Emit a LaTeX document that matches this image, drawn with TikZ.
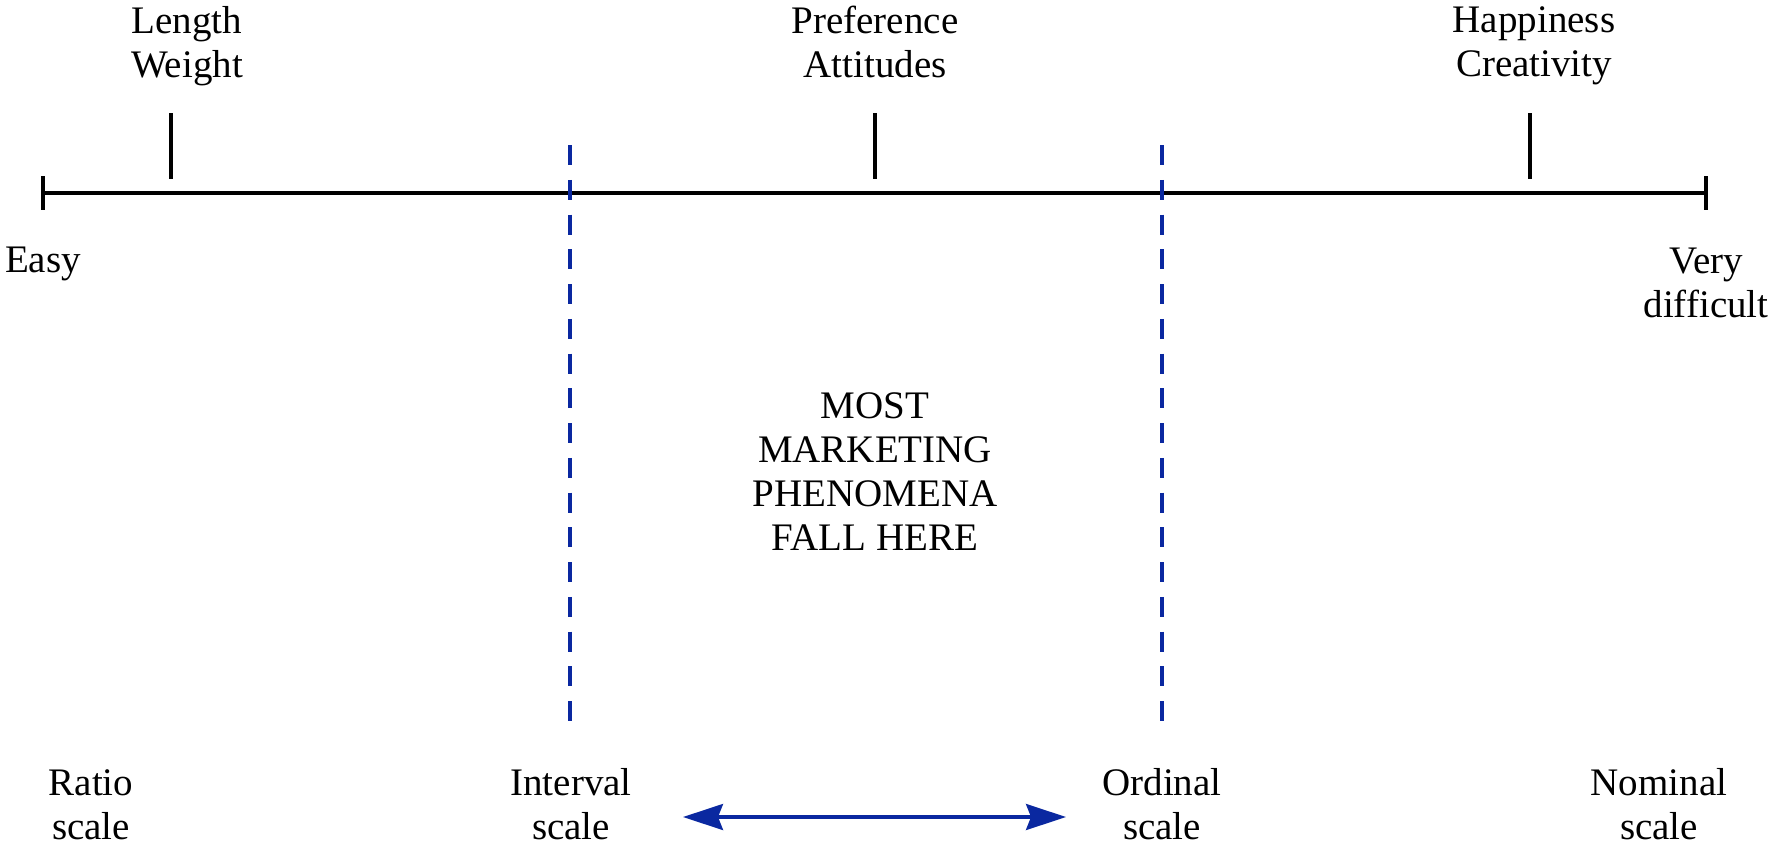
\documentclass[tikz,border=0pt]{standalone}
\usepackage{fontspec}
\setmainfont{Liberation Serif}
\usetikzlibrary{arrows.meta}
\definecolor{scaleblue}{RGB}{10,40,160}
\begin{document}
\begin{tikzpicture}[x=0.5pt,y=-0.5pt,
  lbl/.style={font=\fontsize{19.5}{22}\selectfont, align=center, inner sep=0pt, anchor=base},
  axis/.style={line width=1.6pt, black},
  divider/.style={scaleblue, line width=1.8pt, dash pattern=on 10pt off 7.375pt},
  span/.style={scaleblue, line width=1.6pt,
    {Stealth[length=20pt,width=13pt,inset=2.5pt]}-{Stealth[length=20pt,width=13pt,inset=2.5pt]}}]
\useasboundingbox (0,0) rectangle (1775,846);

% measurement difficulty axis
\coordinate (easyEnd) at (43,193);
\coordinate (hardEnd) at (1706,193);
\draw[axis] (easyEnd) -- (hardEnd);
\draw[axis] (43,176) -- (43,210);
\draw[axis] (1706,176) -- (1706,210);

% markers above the axis
\coordinate (physTop) at (171,113);  \coordinate (physBot) at (171,179);
\coordinate (prefTop) at (875,113);  \coordinate (prefBot) at (875,179);
\coordinate (happTop) at (1530,113); \coordinate (happBot) at (1530,179);
\draw[axis] (physTop) -- (physBot);
\draw[axis] (prefTop) -- (prefBot);
\draw[axis] (happTop) -- (happBot);

% scale boundaries
\coordinate (intTop) at (570,145);  \coordinate (intBot) at (570,721);
\coordinate (ordTop) at (1162,145); \coordinate (ordBot) at (1162,721);
\draw[divider] (intTop) -- (intBot);
\draw[divider] (ordTop) -- (ordBot);

% labels (anchored at the baseline of their last line)
\node[lbl] (phys) at (187,77) {Length\\Weight};
\node[lbl] (pref) at (875,77) {Preference\\Attitudes};
\node[lbl] (happ) at (1534,76) {Happiness\\Creativity};
\node[lbl] (easy) at (43,272) {Easy};
\node[lbl] (hard) at (1706,317) {Very\\difficult};
\node[lbl] (most) at (875,550) {MOST\\MARKETING\\PHENOMENA\\FALL HERE};
\node[lbl] (ratio) at (91,839) {Ratio\\scale};
\node[lbl] (interval) at (571,839) {Interval\\scale};
\node[lbl] (ordinal) at (1162,839) {Ordinal\\scale};
\node[lbl] (nominal) at (1659,839) {Nominal\\scale};

% span between interval and ordinal scales
\coordinate (spanL) at (683,817);
\coordinate (spanR) at (1066,817);
\draw[span] (spanL) -- (spanR);
\end{tikzpicture}
\end{document}
